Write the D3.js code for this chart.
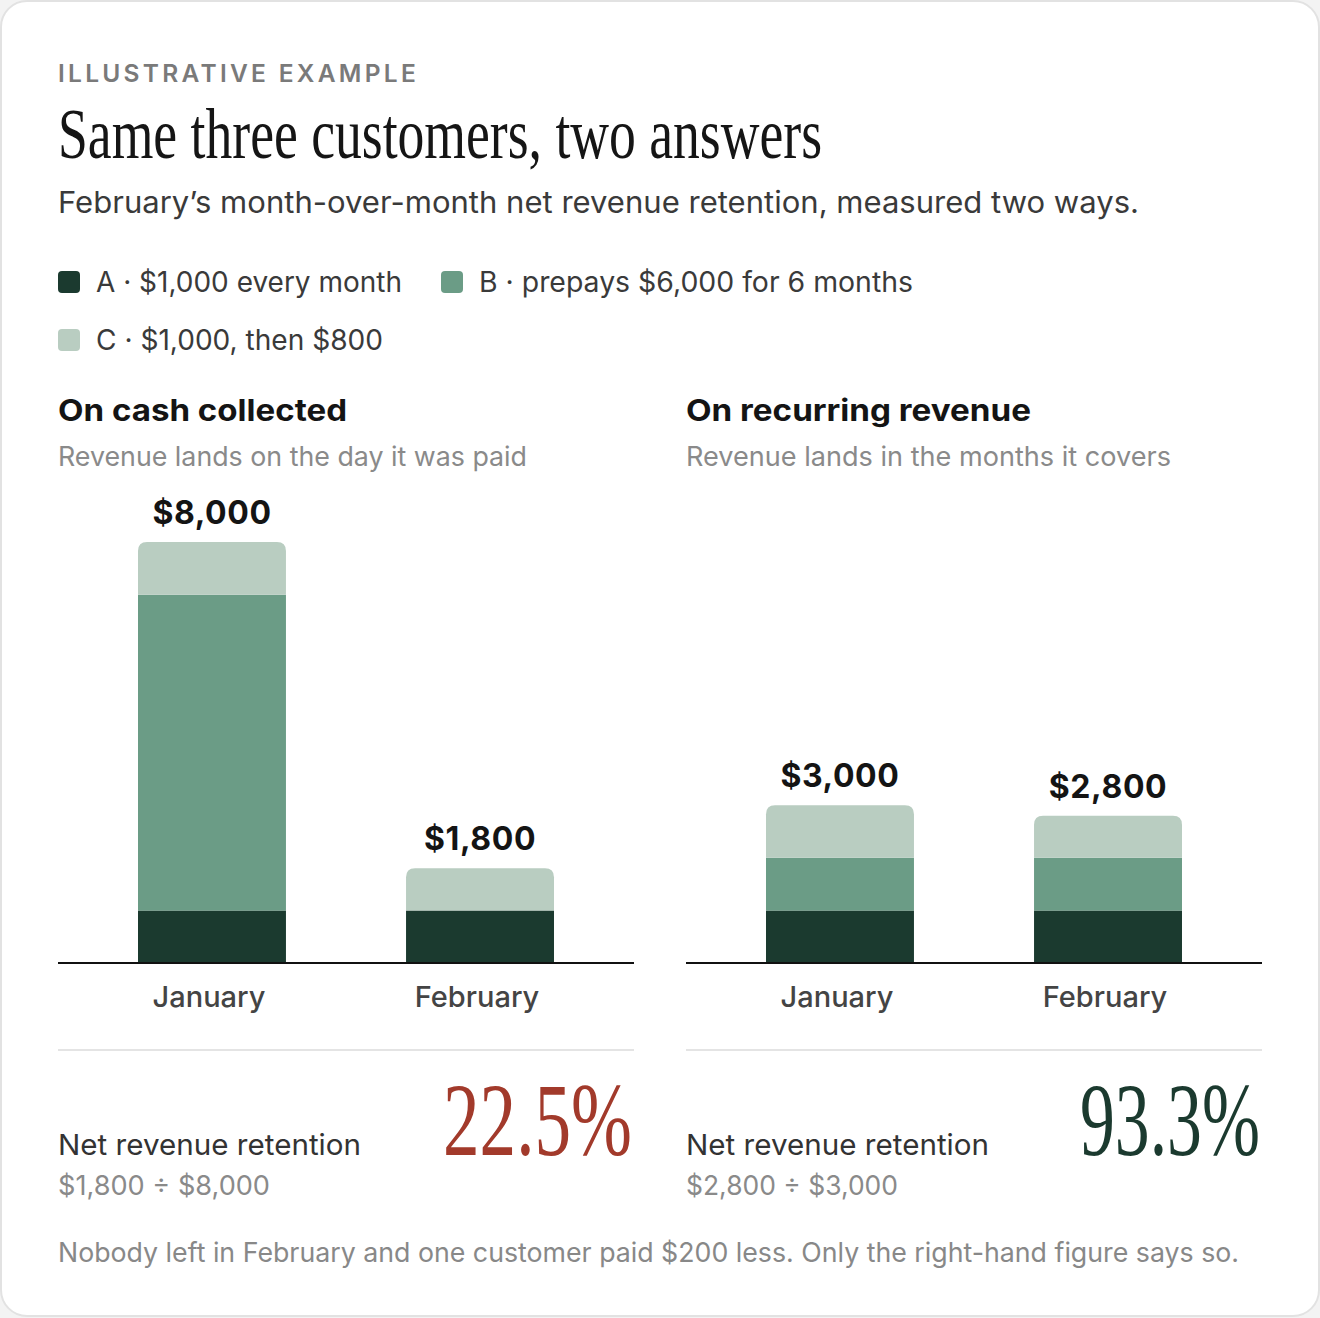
<!DOCTYPE html>
<html>
<head>
<meta charset="utf-8">
<title>Same three customers, two answers</title>
<script src="https://d3js.org/d3.v7.min.js"></script>
<style>
  html, body { margin: 0; padding: 0; background: #f3f3f3; }
  svg { display: block; }
  text { font-family: Inter, "Noto Sans", sans-serif; }
  .serif { font-family: "Liberation Serif", "DejaVu Serif", serif; }
</style>
</head>
<body>
<div id="chart"></div>
<script>
// ---- data ----
const months = ["January", "February"];
const customers = ["A", "B", "C"];
const legendLabels = ["A · $1,000 every month", "B · prepays $6,000 for 6 months", "C · $1,000, then $800"];

// on cash collected
const cashA = [1000, 1000];
const cashB = [6000, 0];
const cashC = [1000, 800];
// on recurring revenue
const recurA = [1000, 1000];
const recurB = [1000, 1000];
const recurC = [1000, 800];

const panelTitles = ["On cash collected", "On recurring revenue"];
const panelNotes = ["Revenue lands on the day it was paid", "Revenue lands in the months it covers"];

// ---- layout ----
const W = 1320, H = 1318;
const colors = { A: "#1b3a2f", B: "#6b9c86", C: "#b9cdc1" };
const fmt = d3.format("$,");

const svg = d3.select("#chart").append("svg")
  .attr("width", W).attr("height", H);

// card
svg.append("rect")
  .attr("x", 1).attr("y", 1).attr("width", W - 2).attr("height", H - 3)
  .attr("rx", 26).attr("fill", "#fff")
  .attr("stroke", "#e2e2e2").attr("stroke-width", 2);

// header texts
svg.append("text")
  .attr("x", 58).attr("y", 82)
  .attr("font-size", 24).attr("font-weight", 600)
  .attr("fill", "#7a7a7a").attr("letter-spacing", 3.2)
  .attr("textLength", 361).attr("lengthAdjust", "spacingAndGlyphs")
  .text("ILLUSTRATIVE EXAMPLE");

svg.append("text").attr("class", "serif")
  .attr("x", 58).attr("y", 158)
  .attr("font-size", 72).attr("fill", "#151515")
  .attr("textLength", 764).attr("lengthAdjust", "spacingAndGlyphs")
  .text("Same three customers, two answers");

svg.append("text")
  .attr("x", 58).attr("y", 213)
  .attr("font-size", 30).attr("fill", "#3a3a3a")
  .attr("textLength", 1081).attr("lengthAdjust", "spacingAndGlyphs")
  .text("February’s month-over-month net revenue retention, measured two ways.");

// legend
const legendPos = [
  { x: 58, y: 282, w: 306 },
  { x: 441, y: 282, w: 434 },
  { x: 58, y: 340, w: 287 }
];
const legend = svg.append("g").selectAll("g")
  .data(customers)
  .join("g")
  .attr("transform", (d, i) => `translate(${legendPos[i].x},${legendPos[i].y})`);
legend.append("rect")
  .attr("x", 0).attr("y", -11).attr("width", 22).attr("height", 22)
  .attr("rx", 4).attr("fill", d => colors[d]);
legend.append("text")
  .attr("x", 38).attr("y", 10)
  .attr("font-size", 28).attr("fill", "#3a3a3a")
  .attr("textLength", (d, i) => legendPos[i].w)
  .attr("lengthAdjust", "spacingAndGlyphs")
  .text((d, i) => legendLabels[i]);

// panels
const y = d3.scaleLinear().domain([0, 8000]).range([963, 542]);
const stack = d3.stack().keys(customers);

const panels = [
  { x0: 58, rows: months.map((m, i) => ({ month: m, A: cashA[i], B: cashB[i], C: cashC[i] })),
    titleW: 289, noteW: 469, color: "#a23a2b", pctW: 189 },
  { x0: 686, rows: months.map((m, i) => ({ month: m, A: recurA[i], B: recurB[i], C: recurC[i] })),
    titleW: 345, noteW: 485, color: "#1b3a2f", pctW: 180 }
];
const panelW = 576;

function topRounded(x, y0, w, h, r) {
  r = Math.min(r, h);
  return `M${x},${y0 + h}V${y0 + r}Q${x},${y0} ${x + r},${y0}H${x + w - r}Q${x + w},${y0} ${x + w},${y0 + r}V${y0 + h}Z`;
}

panels.forEach((p, pi) => {
  const g = svg.append("g");
  const x = d3.scaleBand().domain(months).range([p.x0, p.x0 + panelW])
    .paddingInner(0.448).paddingOuter(0.2985);

  g.append("text")
    .attr("x", p.x0).attr("y", 421)
    .attr("font-size", 30).attr("font-weight", 700).attr("fill", "#141414")
    .attr("textLength", p.titleW).attr("lengthAdjust", "spacingAndGlyphs")
    .text(panelTitles[pi]);
  g.append("text")
    .attr("x", p.x0).attr("y", 466)
    .attr("font-size", 27).attr("fill", "#8a8a8a")
    .attr("textLength", p.noteW).attr("lengthAdjust", "spacingAndGlyphs")
    .text(panelNotes[pi]);

  const series = stack(p.rows);
  const totals = p.rows.map(r => customers.reduce((s, k) => s + r[k], 0));
  // last nonzero layer per month gets the rounded top
  const topKey = p.rows.map(r => customers.filter(k => r[k] > 0).slice(-1)[0]);

  series.forEach(s => {
    g.append("g").selectAll("path")
      .data(s.filter(d => d[1] > d[0]))
      .join("path")
      .attr("fill", colors[s.key])
      .attr("d", d => {
        const mi = months.indexOf(d.data.month);
        const bx = x(d.data.month), bw = x.bandwidth();
        const yt = y(d[1]), h = y(d[0]) - y(d[1]);
        return topRounded(bx, yt, bw, h, topKey[mi] === s.key ? 9 : 0);
      });
  });

  // totals
  g.append("g").selectAll("text")
    .data(p.rows)
    .join("text")
    .attr("x", d => x(d.month) + x.bandwidth() / 2)
    .attr("y", (d, i) => y(totals[i]) - 18)
    .attr("text-anchor", "middle")
    .attr("font-size", 32).attr("font-weight", 700).attr("fill", "#141414")
    .attr("letter-spacing", 0.6)
    .text((d, i) => fmt(totals[i]));

  // axis
  const axis = g.append("g")
    .attr("transform", `translate(0,${y(0)})`)
    .call(d3.axisBottom(x).tickSize(0).tickPadding(23));
  axis.select(".domain").attr("stroke", "#111").attr("stroke-width", 2)
    .attr("d", `M${p.x0},0H${p.x0 + panelW}`);
  axis.selectAll(".tick text")
    .attr("font-family", "Inter, sans-serif")
    .attr("font-size", 29).attr("font-weight", 500).attr("fill", "#444")
    .attr("dx", -3);

  // separator
  g.append("line")
    .attr("x1", p.x0).attr("x2", p.x0 + panelW)
    .attr("y1", 1050).attr("y2", 1050)
    .attr("stroke", "#e4e4e4").attr("stroke-width", 2);

  // NRR
  const nrr = totals[1] / totals[0];
  g.append("text")
    .attr("x", p.x0).attr("y", 1155)
    .attr("font-size", 29).attr("fill", "#333")
    .attr("textLength", 303).attr("lengthAdjust", "spacingAndGlyphs")
    .text("Net revenue retention");
  g.append("text")
    .attr("x", p.x0).attr("y", 1195)
    .attr("font-size", 27).attr("fill", "#8a8a8a")
    .attr("textLength", 212).attr("lengthAdjust", "spacingAndGlyphs")
    .text(`${fmt(totals[1])} ÷ ${fmt(totals[0])}`);
  // condensed big figure: squeeze horizontally with a transform, anchored at the right edge
  const big = g.append("text").attr("class", "serif")
    .attr("text-anchor", "end")
    .attr("font-size", 104).attr("fill", p.color)
    .text(d3.format(".1%")(nrr));
  const sx = p.pctW / big.node().getComputedTextLength();
  big.attr("transform", `translate(${p.x0 + panelW - 2},1155) scale(${sx},1)`);
});

// footer
svg.append("text")
  .attr("x", 58).attr("y", 1262)
  .attr("font-size", 27).attr("fill", "#888")
  .attr("textLength", 1181).attr("lengthAdjust", "spacingAndGlyphs")
  .text("Nobody left in February and one customer paid $200 less. Only the right-hand figure says so.");
</script>
</body>
</html>
